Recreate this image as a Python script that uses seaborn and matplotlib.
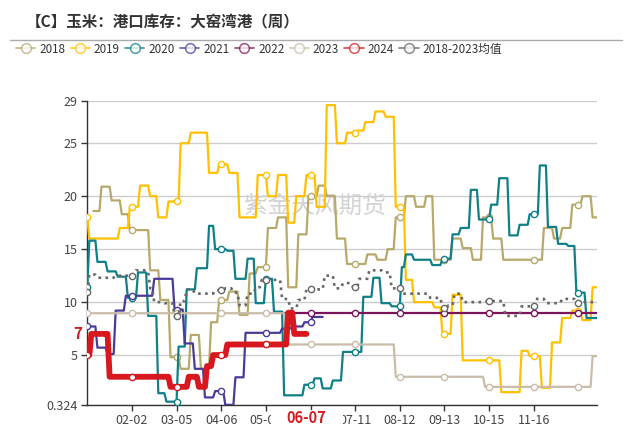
import numpy as np
import pandas as pd
import matplotlib
matplotlib.use('Agg')
import matplotlib.pyplot as plt
import seaborn as sns
from matplotlib.lines import Line2D
from matplotlib.patches import Rectangle
from matplotlib.transforms import blended_transform_factory

# x axis = trading-day index of the year (0..251), values change weekly
x_end = 251
tick_pos = [22, 44, 66, 88, 110, 132, 154, 176, 198, 220]
tick_labels = ['02-02', '03-05', '04-06', '05-08', '', '07-11', '08-12', '09-13', '10-15', '11-16']
ytick_vals = [0.324, 5, 10, 15, 20, 25, 29]
ytick_labels = ['0.324', '5', '10', '15', '20', '25', '29']

days_2018 = [3, 7, 12, 17, 21, 31, 36, 41, 46, 51, 56, 61, 65, 70, 75, 80, 84, 89, 94, 99, 104, 109,
             114, 118, 123, 128, 138, 143, 148, 152, 157, 162, 167, 171, 180, 185, 190, 195, 200,
             205, 225, 230, 234, 239, 244, 249]
vals_2018 = [18.6, 20.9, 19.6, 18.3, 16.8, 13.0, 10.2, 4.8, 3.7, 6.9, 3.7, 8.1, 10.2, 11.0, 8.8, 12.7,
             13.3, 17.0, 18.0, 11.4, 16.4, 20.0, 21.0, 20.0, 16.0, 13.6, 14.5, 14.0, 15.0, 18.0, 20.0,
             19.0, 20.0, 14.0, 16.0, 15.1, 14.0, 18.0, 16.0, 14.0, 17.0, 16.0, 17.0, 19.2, 20.0, 18.0]

days_2019 = [0, 1, 16, 21, 26, 31, 35, 40, 46, 51, 60, 65, 70, 75, 84, 89, 94, 99, 103, 108, 113, 118,
             123, 128, 133, 137, 142, 147, 152, 157, 161, 171, 175, 180, 185, 204, 214, 218, 224, 229,
             234, 239, 244, 249]
vals_2019 = [18.0, 16.0, 17.0, 19.0, 21.0, 20.0, 18.0, 19.5, 25.0, 26.0, 22.2, 23.0, 22.2, 18.0, 22.0,
             20.0, 22.0, 17.5, 20.0, 22.0, 19.0, 28.6, 25.0, 26.0, 26.2, 27.0, 28.0, 27.5, 19.0, 12.1,
             10.0, 9.5, 7.0, 10.7, 4.5, 1.5, 5.4, 4.9, 1.9, 6.2, 8.5, 9.2, 8.3, 11.4]

days_2020 = [0, 1, 5, 10, 15, 20, 25, 30, 35, 39, 45, 49, 54, 60, 63, 69, 73, 79, 83, 88, 92, 97, 107,
             112, 116, 121, 126, 136, 141, 145, 150, 155, 157, 161, 170, 175, 180, 184, 189, 193, 199,
             203, 208, 213, 218, 223, 227, 232, 237, 241, 246]
vals_2020 = [11.4, 15.8, 13.8, 12.9, 12.4, 10.4, 12.8, 8.7, 1.4, 0.6, 5.8, 11.2, 13.2, 17.2, 15.0,
             14.85, 12.2, 14.1, 9.9, 12.2, 9.1, 1.2, 2.2, 2.8, 1.85, 2.6, 5.3, 10.5, 12.3, 9.9, 9.6,
             13.3, 14.5, 14.0, 13.5, 14.1, 16.4, 17.0, 20.6, 17.8, 19.2, 21.7, 16.3, 17.3, 18.3, 22.9,
             17.1, 15.5, 15.3, 10.9, 8.5]

days_2021 = [0, 5, 10, 14, 19, 33, 43, 48, 53, 58, 63, 68, 73, 78, 96, 101, 107, 111]
vals_2021 = [7.7, 5.7, 5.1, 9.2, 10.6, 12.2, 9.3, 6.1, 3.7, 1.0, 1.6, 0.3, 2.9, 7.1, 7.5, 7.7, 8.1, 8.6]
end_2021 = 116

days_2022 = [96]
vals_2022 = [9.0]

days_2023 = [0, 98, 152, 196, 249]
vals_2023 = [8.95, 6.0, 2.95, 2.0, 4.9]

days_2024 = [0, 2, 11, 41, 50, 55, 59, 62, 69, 99, 102]
vals_2024 = [5.0, 7.0, 2.95, 2.0, 2.95, 2.0, 3.96, 5.0, 6.0, 9.0, 7.0]
end_2024 = 108
last_2024 = '06-07'

days_avg = [0, 1, 5, 14, 24, 30, 31, 33, 38, 43, 46, 49, 53, 63, 68, 72, 75, 79, 83, 86, 96, 100, 104,
            108, 117, 122, 126, 131, 134, 139, 146, 150, 155, 169, 175, 178, 181, 185, 197, 206, 214,
            221, 226, 234, 241, 245]
vals_avg = [11.0, 12.6, 12.3, 12.5, 13.0, 12.9, 11.3, 10.0, 9.9, 8.7, 10.1, 11.2, 10.8, 11.1, 11.3,
            10.9, 9.7, 10.8, 11.4, 12.1, 10.3, 9.4, 10.2, 11.2, 12.5, 11.3, 11.8, 11.4, 12.2, 13.0,
            12.8, 11.3, 10.8, 10.4, 9.4, 9.7, 10.8, 10.0, 10.1, 8.7, 9.6, 10.3, 9.9, 10.3, 9.9, 10.0]


def to_daily(days, vals, end=x_end):
    s = pd.Series(vals, index=days, dtype=float)
    return s.reindex(range(days[0], end + 1)).ffill()


series = [
    ('2018', days_2018, vals_2018, x_end, '#b7a86c', 1.6, '-', 3),
    ('2019', days_2019, vals_2019, x_end, '#ffc000', 1.6, '-', 3),
    ('2020', days_2020, vals_2020, x_end, '#0f7f88', 1.6, '-', 3),
    ('2021', days_2021, vals_2021, end_2021, '#4b3b98', 1.6, '-', 3),
    ('2022', days_2022, vals_2022, x_end, '#7b1458', 1.6, '-', 3),
    ('2023', days_2023, vals_2023, x_end, '#c9bca8', 1.6, '-', 3),
    ('2024', days_2024, vals_2024, end_2024, '#d7181f', 4.2, '-', 6),
    ('2018-2023均值', days_avg, vals_avg, x_end, '#666666', 1.9, ':', 5),
]

sns.set_theme(style='white')
plt.rcParams['font.family'] = ['Noto Sans CJK SC', 'DejaVu Sans']
plt.rcParams['axes.unicode_minus'] = False

fig = plt.figure(figsize=(6.32, 4.30), dpi=100)
ax = fig.add_axes([0.1381, 0.0591, 0.806, 0.7063])

ax.text(0.447, 0.654, '紫金天风期货', transform=ax.transAxes, fontsize=17, color='#d2d2d2',
        ha='center', va='center', zorder=1)

handles = []
for name, days, vals, end, color, lw, ls, z in series:
    s = to_daily(days, vals, end)
    marks = [i for i, d in enumerate(s.index) if d % 22 == 0]
    sns.lineplot(x=s.index.values, y=s.values, ax=ax, color=color, linewidth=lw, linestyle=ls,
                 marker='o', markevery=marks, markersize=4.5, markerfacecolor='white',
                 markeredgecolor=color, markeredgewidth=1, errorbar=None, zorder=z)
    handles.append(Line2D([], [], color=color, lw=1.3, alpha=0.75, marker='o', markersize=7,
                          markerfacecolor='white', markeredgecolor=color, markeredgewidth=1.1,
                          label=name))

ax.set_xlim(0, x_end)
ax.set_ylim(ytick_vals[0], ytick_vals[-1])
ax.set_xticks(tick_pos)
ax.set_xticklabels(tick_labels)
ax.set_yticks(ytick_vals)
ax.set_yticklabels(ytick_labels)
ax.set_xlabel('')
ax.set_ylabel('')
ax.set_axisbelow(True)
ax.yaxis.grid(True, color='#cccccc', lw=1)
ax.xaxis.grid(False)
sns.despine(ax=ax)
for side in ['left', 'bottom']:
    ax.spines[side].set_color('#333333')
    ax.spines[side].set_linewidth(1)
ax.tick_params(axis='both', bottom=True, left=True, length=4, width=1, color='#333333',
               labelsize=9, labelcolor='#444444', pad=3)

# latest value / latest date highlights
tr = blended_transform_factory(ax.transAxes, ax.transData)
ax.text(-0.01, vals_2024[-1], '7', transform=tr, ha='right', va='center', color='#d7181f',
        fontsize=11, fontweight='bold')
tr2 = blended_transform_factory(ax.transData, ax.transAxes)
ax.add_patch(Rectangle((90.5, -0.09), 35.5, 0.072, transform=tr2, facecolor='white',
                       edgecolor='none', clip_on=False, zorder=10))
ax.text(end_2024, -0.045, last_2024, transform=tr2, ha='center', va='center', color='#d7181f',
        fontsize=10.5, fontweight='bold', zorder=11, clip_on=False)

fig.text(0.041, 0.948, '【C】玉米：港口库存：大窑湾港（周）', fontsize=11.2, fontweight='bold',
         color='#333333', ha='left', va='center')
fig.add_artist(Line2D([0.016, 0.984], [0.907, 0.907], transform=fig.transFigure,
                      color='#aaaaaa', lw=1))
fig.legend(handles=handles, loc='center left', bbox_to_anchor=(0.016, 0.886), ncol=8,
           frameon=False, fontsize=8.4, handlelength=1.65, handletextpad=0.35, columnspacing=0.45,
           borderpad=0, labelcolor='#333333')

fig.savefig('out.png', dpi=100, facecolor='white')
